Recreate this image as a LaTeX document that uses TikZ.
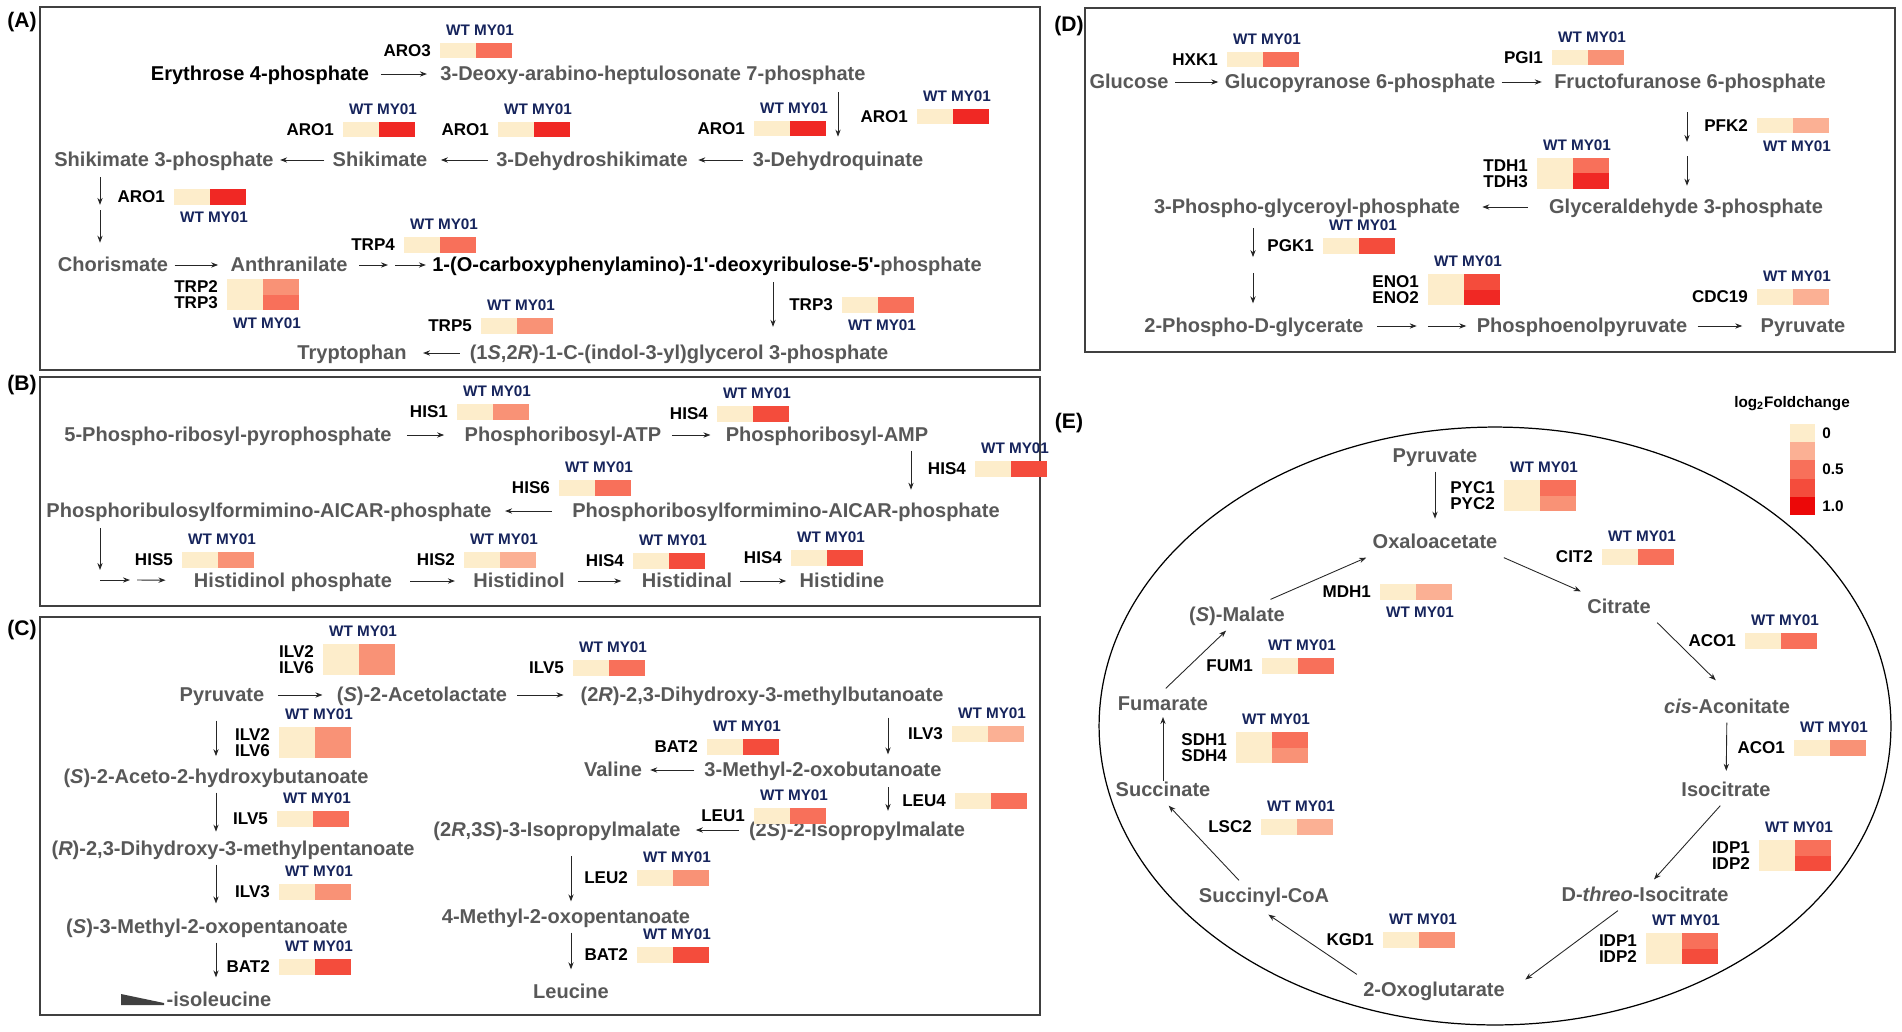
\documentclass[tikz,border=0pt]{standalone}
\usepackage{fontspec}
\setmainfont{Liberation Sans}
\usetikzlibrary{arrows.meta, positioning, calc}
\definecolor{metgray}{RGB}{88,88,88}
\definecolor{navy}{RGB}{22,36,92}
\definecolor{wtcol}{RGB}{253,237,203}
\definecolor{fcA}{RGB}{251,176,148}
\definecolor{fcB}{RGB}{249,146,118}
\definecolor{fcC}{RGB}{248,112,90}
\definecolor{fcD}{RGB}{244,76,60}
\definecolor{fcE}{RGB}{240,40,36}
\definecolor{fcF}{RGB}{236,8,8}

\tikzset{
  met/.style={font={\fontsize{11.4}{13}\selectfont\bfseries}, text=metgray, inner sep=3.5pt, text height=9pt, text depth=1.4pt},
  enz/.style={font={\fontsize{9.7}{11}\selectfont\bfseries}, inner sep=0pt, text height=7pt, text depth=0pt},
  smp/.style={font={\fontsize{8.7}{10}\selectfont\bfseries}, text=navy, inner sep=0pt, text height=6.2pt, text depth=0pt},
  cell/.style={minimum width=0.72cm, minimum height=0.31cm, inner sep=0pt, outer sep=0pt},
  rx/.style={-{Stealth[length=4pt,width=3pt]}, line width=0.5pt, black!85},
  panel/.style={line width=0.8pt, black!75},
  tag/.style={font={\fontsize{12}{14}\selectfont\bfseries}},
  legtxt/.style={font={\fontsize{8.7}{10}\selectfont\bfseries}, inner sep=0pt}
}

% one gene: name, top left of tile, enzyme, MY01 colour, side of WT/MY01 (above, below or empty)
\newcommand{\gene}[5]{%
  \node[cell, fill=wtcol, anchor=north west] (#1w) at (#2) {};
  \node[cell, fill=#4, anchor=west] (#1m) at (#1w.east) {};
  \node[enz, anchor=east] (#1) at ([xshift=-5pt]#1w.west) {#3};
  \ifx&#5&\else
    \node[smp, #5=4pt of #1w] (#1wl) {WT};
    \node[smp] (#1ml) at (#1wl -| #1m) {MY01};
  \fi}
% two genes in one tile
\newcommand{\genetwo}[7]{%
  \node[cell, minimum height=0.62cm, fill=wtcol, anchor=north west] (#1w) at (#2) {};
  \node[cell, fill=#5, anchor=north west] (#1m) at (#1w.north east) {};
  \node[cell, fill=#6, anchor=north west] (#1n) at (#1m.south west) {};
  \coordinate (#1p) at (#1w.west |- #1m);
  \coordinate (#1q) at (#1w.west |- #1n);
  \node[enz, anchor=east] (#1) at ([xshift=-5pt]#1p) {#3};
  \node[enz, anchor=east] (#1b) at ([xshift=-5pt]#1q) {#4};
  \node[smp, #7=4pt of #1w] (#1wl) {WT};
  \node[smp] (#1ml) at (#1wl -| #1m) {MY01};}

\begin{document}
\begin{tikzpicture}[x=0.02cm, y=-0.02cm]
  \useasboundingbox (0,0) rectangle (1902,1031);

  % Panel frames
  \draw[panel] (40,7) rectangle (1040,370);
  \draw[panel] (40,377) rectangle (1040,606);
  \draw[panel] (40,617) rectangle (1040,1015);
  \draw[panel] (1085,8) rectangle (1895,352);
  \node[tag] (tagA) at (22,22) {(A)};
  \node[tag] (tagB) at (22,385) {(B)};
  \node[tag] (tagC) at (22,630) {(C)};
  \node[tag] (tagD) at (1069,26) {(D)};
  \node[tag] (tagE) at (1069,423) {(E)};

  % (A) shikimate and tryptophan
  \node[met, text=black] (e4p) at (260,74) {Erythrose 4-phosphate};
  \node[met] (dahp) at (653,74) {3-Deoxy-arabino-heptulosonate 7-phosphate};
  \node[met] (s3p) at (164,160) {Shikimate 3-phosphate};
  \node[met] (shik) at (380,160) {Shikimate};
  \node[met] (dhs) at (592,160) {3-Dehydroshikimate};
  \node[met] (dhq) at (838,160) {3-Dehydroquinate};
  \node[met] (chor) at (113,265) {Chorismate};
  \node[met] (anth) at (289,265) {Anthranilate};
  \node[met] (cdrp) at (707,265) {{\color{black}1-(O-carboxyphenylamino)-1\textquotesingle-deoxyribulose-5\textquotesingle-}phosphate};
  \node[met] (igp) at (679,353) {(1\textit{S},2\textit{R})-1-C-(indol-3-yl)glycerol 3-phosphate};
  \node[met] (trp) at (352,353) {Tryptophan};

  \gene{aro3}{440,43}{ARO3}{fcC}{above}
  \gene{aroa}{343,122}{ARO1}{fcE}{above}
  \gene{arob}{498,122}{ARO1}{fcE}{above}
  \gene{aroc}{754,121}{ARO1}{fcE}{above}
  \gene{arod}{917,109}{ARO1}{fcE}{above}
  \gene{aroe}{174,189}{ARO1}{fcE}{below}
  \gene{trp4}{404,237}{TRP4}{fcC}{above}
  \genetwo{trp23}{227,279}{TRP2}{TRP3}{fcB}{fcC}{below}
  \gene{trp5}{481,318}{TRP5}{fcB}{above}
  \gene{trp3}{842,297}{TRP3}{fcC}{below}

  \draw[rx, shorten <=3pt, shorten >=4pt] (e4p) -- (dahp);
  \draw[rx, shorten <=1.5pt, shorten >=4.4pt] (dahp.south -| dhq) -- (dhq.north);
  \draw[rx, shorten <=2pt, shorten >=2.3pt] (dhq) -- (dhs);
  \draw[rx, shorten <=1pt, shorten >=4pt] (dhs) -- (shik);
  \draw[rx, shorten <=1pt] (shik) -- (s3p);
  \coordinate (s3pgap) at (100,207.5);
  \draw[rx, shorten <=1pt, shorten >=1.5pt] (s3p.south -| s3pgap) -- (s3pgap);
  \draw[rx, shorten <=1.5pt, shorten >=3.8pt] (s3pgap) -- (chor.north -| s3pgap);
  \draw[rx, shorten >=3.4pt] (chor) -- (anth);
  \coordinate (anthgap) at (391.5,265);
  \draw[rx, shorten <=3pt, shorten >=2pt] (anth) -- (anthgap);
  \draw[rx, shorten <=2pt] (anthgap) -- (cdrp);
  \coordinate (trpdrop) at (773,265);
  \draw[rx, shorten <=1pt, shorten >=6pt] (cdrp.south -| trpdrop) -- (igp.north -| trpdrop);
  \draw[rx, shorten <=2pt, shorten >=5.7pt] (igp) -- (trp);

  % (B) histidine
  \node[met] (prpp) at (228,435) {5-Phospho-ribosyl-pyrophosphate};
  \node[met] (prat) at (563,435) {Phosphoribosyl-ATP};
  \node[met] (pram) at (827,435) {Phosphoribosyl-AMP};
  \node[met] (prfar) at (786,511) {Phosphoribosylformimino-AICAR-phosphate};
  \node[met] (prfarl) at (269,511) {Phosphoribulosylformimino-AICAR-phosphate};
  \node[met] (hisp) at (293,581) {Histidinol phosphate};
  \node[met] (hisol) at (519,581) {Histidinol};
  \node[met] (hisal) at (687,581) {Histidinal};
  \node[met] (his) at (842,581) {Histidine};

  \gene{his1}{457,404}{HIS1}{fcB}{above}
  \gene{his4a}{717,406}{HIS4}{fcD}{above}
  \gene{his4b}{975,461}{HIS4}{fcD}{above}
  \gene{his6}{559,480}{HIS6}{fcC}{above}
  \gene{his5}{182,552}{HIS5}{fcB}{above}
  \gene{his2}{464,552}{HIS2}{fcA}{above}
  \gene{his4c}{633,553}{HIS4}{fcD}{above}
  \gene{his4d}{791,550}{HIS4}{fcD}{above}

  \draw[rx, shorten <=5pt, shorten >=8pt] (prpp) -- (prat);
  \draw[rx, shorten <=2.3pt, shorten >=5pt] (prat) -- (pram);
  \coordinate (pramdrop) at (911,435);
  \draw[rx, shorten >=3.2pt] (pram.south -| pramdrop) -- (prfar.north -| pramdrop);
  \draw[rx, shorten <=8pt, shorten >=4pt] (prfar) -- (prfarl);
  \coordinate (hisa) at (100,580);
  \coordinate (hisb) at (133.5,580);
  \draw[rx, shorten <=1pt, shorten >=5.7pt] (prfarl.south -| hisa) -- (hisa);
  \draw[rx, shorten >=2pt] (hisa) -- (hisb);
  \draw[rx, shorten <=2pt, shorten >=12.5pt] (hisb) -- (hisp);
  \draw[rx, shorten <=6.8pt, shorten >=6.8pt] (hisp) -- (hisol);
  \draw[rx, shorten <=4pt, shorten >=8pt] (hisol) -- (hisal);
  \draw[rx, shorten <=1pt, shorten >=4pt] (hisal) -- (his);

  % (C) branched-chain amino acids
  \node[met] (cpyr) at (222,695) {Pyruvate};
  \node[met] (acl) at (422,695) {(\textit{S})-2-Acetolactate};
  \node[met] (dhmb) at (762,695) {(2\textit{R})-2,3-Dihydroxy-3-methylbutanoate};
  \node[met] (ahb) at (216,777) {(\textit{S})-2-Aceto-2-hydroxybutanoate};
  \node[met] (dhmp) at (233,849) {(\textit{R})-2,3-Dihydroxy-3-methylpentanoate};
  \node[met] (mop) at (207,927) {(\textit{S})-3-Methyl-2-oxopentanoate};
  \node[met] (ile) at (219,1000) {-isoleucine};
  \node[met] (mob) at (823,770) {3-Methyl-2-oxobutanoate};
  \node[met] (valine) at (613,770) {Valine};
  \node[met] (ipm) at (857,830) {(2\textit{S})-2-Isopropylmalate};
  \node[met] (ipm3) at (557,830) {(2\textit{R},3\textit{S})-3-Isopropylmalate};
  \node[met] (mop4) at (566,917) {4-Methyl-2-oxopentanoate};
  \node[met] (leu) at (571,992) {Leucine};
  \fill[black!75] (121,994) -- (164,1003) -- (164,1005) -- (121,1005) -- cycle;

  \genetwo{ilvA}{323,644}{ILV2}{ILV6}{fcB}{fcB}{above}
  \genetwo{ilvB}{279,727}{ILV2}{ILV6}{fcB}{fcB}{above}
  \gene{ilv5a}{277,811}{ILV5}{fcC}{above}
  \gene{ilv3a}{279,884}{ILV3}{fcB}{above}
  \gene{bat2a}{279,959}{BAT2}{fcD}{above}
  \gene{ilv5b}{573,660}{ILV5}{fcC}{above}
  \gene{ilv3b}{952,726}{ILV3}{fcA}{above}
  \gene{bat2b}{707,739}{BAT2}{fcD}{above}
  \gene{leu4}{955,793}{LEU4}{fcC}{}
  \gene{leu1}{754,808}{LEU1}{fcC}{above}
  \gene{leu2}{637,870}{LEU2}{fcB}{above}
  \gene{bat2c}{637,947}{BAT2}{fcD}{above}

  \draw[rx, shorten <=4pt, shorten >=4.5pt] (cpyr) -- (acl);
  \draw[rx, shorten <=2pt, shorten >=6pt] (acl) -- (dhmb);
  \draw[rx, shorten <=5.7pt, shorten >=3pt] (cpyr.south -| ahb) -- (ahb.north);
  \draw[rx, shorten >=1pt] (ahb.south) -- (ahb.south |- dhmp.north);
  \draw[rx, shorten >=4.5pt] (dhmp.south -| ahb) -- (mop.north -| ahb);
  \draw[rx, shorten >=4pt] (mop.south -| ahb) -- (ile.north -| ahb);
  \coordinate (mobdrop) at (888,770);
  \draw[rx, shorten <=4pt] (dhmb.south -| mobdrop) -- (mob.north -| mobdrop);
  \draw[rx, shorten <=2pt, shorten >=1pt] (mob) -- (valine);
  \draw[rx, shorten <=1pt, shorten >=2pt] (mob.south -| mobdrop) -- (ipm.north -| mobdrop);
  \draw[rx, shorten <=2pt, shorten >=5pt] (ipm) -- (ipm3);
  \draw[rx, shorten <=6pt] (ipm3.south -| leu) -- (mop4.north -| leu);
  \draw[rx, shorten >=4pt] (mop4.south -| leu) -- (leu.north);

  % (D) glycolysis
  \node[met] (glc) at (1129,82) {Glucose};
  \node[met] (g6p) at (1360,82) {Glucopyranose 6-phosphate};
  \node[met] (f6p) at (1690,82) {Fructofuranose 6-phosphate};
  \node[met] (gap) at (1686,207) {Glyceraldehyde 3-phosphate};
  \node[met] (bpg) at (1307,207) {3-Phospho-glyceroyl-phosphate};
  \node[met] (pga) at (1254,326) {2-Phospho-D-glycerate};
  \node[met] (pep) at (1582,326) {Phosphoenolpyruvate};
  \node[met] (dpyr) at (1803,326) {Pyruvate};

  \gene{hxk1}{1227,52}{HXK1}{fcC}{above}
  \gene{pgi1}{1552,50}{PGI1}{fcB}{above}
  \gene{pfk2}{1757,118}{PFK2}{fcA}{below}
  \genetwo{tdh}{1537,158}{TDH1}{TDH3}{fcC}{fcE}{above}
  \gene{pgk1}{1323,238}{PGK1}{fcD}{above}
  \genetwo{eno}{1428,274}{ENO1}{ENO2}{fcD}{fcE}{above}
  \gene{cdc19}{1757,289}{CDC19}{fcA}{above}

  \draw[rx] (glc) -- (g6p);
  \draw[rx, shorten >=3.4pt] (g6p) -- (f6p);
  \coordinate (f6pgap) at (1687,149);
  \draw[rx, shorten <=8.4pt, shorten >=4pt] (f6p.south -| f6pgap) -- (f6pgap);
  \draw[rx, shorten <=4pt, shorten >=3.2pt] (f6pgap) -- (gap.north -| f6pgap);
  \draw[rx, shorten <=8.5pt, shorten >=9pt] (gap) -- (bpg);
  \coordinate (bpggap) at (1253,265);
  \draw[rx, shorten <=3pt, shorten >=4.5pt] (bpg.south -| bpggap) -- (bpggap);
  \draw[rx, shorten <=4.5pt, shorten >=4pt] (bpggap) -- (pga.north -| bpggap);
  \coordinate (pgagap) at (1422,326);
  \draw[rx, shorten <=4pt, shorten >=3pt] (pga) -- (pgagap);
  \draw[rx, shorten <=3.4pt, shorten >=2.3pt] (pgagap) -- (pep);
  \draw[rx, shorten <=2.3pt, shorten >=6.8pt] (pep) -- (dpyr);

  % (E) TCA cycle
  \draw[line width=0.7pt] (1495,726) ellipse [x radius=7.92cm, y radius=5.98cm];
  \node[met] (epyr) at (1435,456) {Pyruvate};
  \node[met] (oxa) at (1435,542) {Oxaloacetate};
  \node[met] (cit) at (1619,607) {Citrate};
  \node[met] (cis) at (1727,707) {\textit{cis}-Aconitate};
  \node[met] (iso) at (1726,790) {Isocitrate};
  \node[met] (thr) at (1645,895) {D-\textit{threo}-Isocitrate};
  \node[met] (ogl) at (1434,990) {2-Oxoglutarate};
  \node[met] (scoa) at (1264,896) {Succinyl-CoA};
  \node[met] (suc) at (1163,790) {Succinate};
  \node[met] (fum) at (1163,704) {Fumarate};
  \node[met] (mal) at (1237,615) {(\textit{S})-Malate};

  \genetwo{pyc}{1504,480}{PYC1}{PYC2}{fcC}{fcB}{above}
  \gene{cit2}{1602,549}{CIT2}{fcC}{above}
  \gene{acoa}{1745,633}{ACO1}{fcC}{above}
  \gene{acob}{1794,740}{ACO1}{fcB}{above}
  \genetwo{idpa}{1759,840}{IDP1}{IDP2}{fcC}{fcD}{above}
  \genetwo{idpb}{1646,933}{IDP1}{IDP2}{fcC}{fcD}{above}
  \gene{kgd1}{1383,932}{KGD1}{fcB}{above}
  \gene{lsc2}{1261,819}{LSC2}{fcA}{above}
  \genetwo{sdh}{1236,732}{SDH1}{SDH4}{fcC}{fcB}{above}
  \gene{fum1}{1262,658}{FUM1}{fcC}{above}
  \gene{mdh1}{1380,584}{MDH1}{fcA}{below}

  \draw[rx, shorten >=4.4pt] (epyr) -- (oxa);
  \draw[rx] (oxa.south east) -- (cit.north west);
  \draw[rx, shorten >=9pt] (cit.south east) -- (cis.north);
  \draw[rx, shorten >=2pt] (cis) -- (iso);
  \draw[rx] (iso.250) -- (thr.60);
  \draw[rx, shorten >=10pt] (thr.210) -- (ogl.east);
  \draw[rx, shorten >=3pt] (ogl.north west) -- (scoa.south);
  \draw[rx] (scoa.148) -- (suc.290);
  \draw[rx, shorten <=-3.8pt, shorten >=-1.5pt] (suc) -- (fum);
  \draw[rx] (fum.80) -- (mal.235);
  \draw[rx] (mal.25) -- (oxa.south west);

  % Legend
  \node[legtxt] (legtitle) at (1792,404) {log\textsubscript{2}Foldchange};
  \foreach \c [count=\i] in {wtcol,fcA,fcC,fcD,fcF}
    \node[cell, minimum width=0.5cm, minimum height=0.365cm, fill=\c, anchor=north west] (leg\i) at (1790,{424+18.2*(\i-1)}) {};
  \node[legtxt, right=4pt of leg1] (legzero) {0};
  \node[legtxt, right=4pt of leg3] (leghalf) {0.5};
  \node[legtxt, right=4pt of leg5] (legone) {1.0};
\end{tikzpicture}
\end{document}
